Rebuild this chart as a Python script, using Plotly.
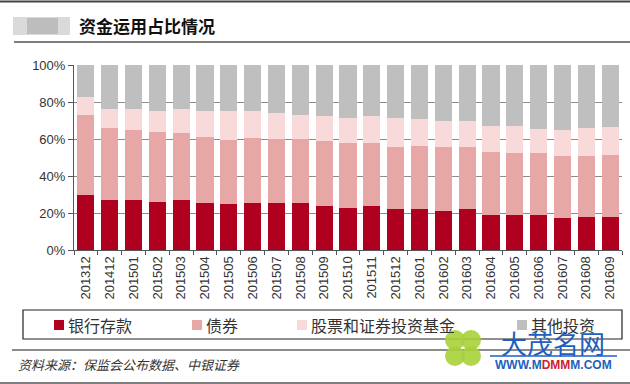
import plotly.graph_objects as go

categories = ["201312","201412","201501","201502","201503","201504","201505","201506",
              "201507","201508","201509","201510","201511","201512","201601","201602",
              "201603","201604","201605","201606","201607","201608","201609"]
series_names = ["银行存款", "债券", "股票和证券投资基金", "其他投资"]
bank = [29.7,27.0,27.0,26.1,27.0,25.6,24.7,25.6,25.2,25.2,24.0,22.5,23.8,22.0,22.0,21.1,22.0,18.9,18.9,18.9,17.1,18.0,18.0]
bond = [43.3,38.8,37.9,37.9,36.1,35.3,34.8,34.8,34.6,34.6,35.1,35.5,34.2,33.9,34.2,34.8,33.9,34.3,33.7,33.7,33.7,32.8,33.4]
stock = [9.9,10.4,11.1,11.1,12.9,14.2,15.6,14.7,14.4,13.2,13.3,13.5,14.6,15.3,14.4,13.8,13.8,14.0,14.6,12.8,14.1,15.0,14.9]
other = [17.1,23.8,24.0,24.9,24.0,24.9,24.9,24.9,25.8,27.0,27.6,28.5,27.4,28.8,29.4,30.3,30.3,32.8,32.8,34.6,35.1,34.2,33.7]
y_ticks = [0, 20, 40, 60, 80, 100]
y_ticklabels = ["0%", "20%", "40%", "60%", "80%", "100%"]
colors = ["#B0001F", "#E8A7A7", "#F8DADA", "#BFBFBF"]
title_text = "资金运用占比情况"
source_text = "资料来源：保监会公布数据、中银证券"

W, H = 630, 384
L, R, T, B = 74, 8, 65, 134
PW, PH = W - L - R, H - T - B

def px(x):
    return (x - L) / PW

def py(y):
    return (H - B - y) / PH

fig = go.Figure()
for name, vals, col in zip(series_names, [bank, bond, stock, other], colors):
    fig.add_trace(go.Bar(x=categories, y=vals, name=name, marker=dict(color=col, line=dict(width=0)),
                         showlegend=False))

shapes = []
annotations = []

# top rule, title rule, separator, bottom rule
shapes.append(dict(type="line", xref="paper", yref="paper", x0=px(0), x1=px(630), y0=py(1.5), y1=py(1.5),
                   line=dict(color="#444444", width=2)))
shapes.append(dict(type="line", xref="paper", yref="paper", x0=px(14), x1=px(630), y0=py(42), y1=py(42),
                   line=dict(color="#555555", width=1.5)))
shapes.append(dict(type="line", xref="paper", yref="paper", x0=px(12), x1=px(630), y0=py(350), y1=py(350),
                   line=dict(color="#666666", width=1.5)))
shapes.append(dict(type="line", xref="paper", yref="paper", x0=px(0), x1=px(630), y0=py(383), y1=py(383),
                   line=dict(color="#555555", width=1.5)))

# blurred blob before title
shapes.append(dict(type="rect", xref="paper", yref="paper", x0=px(13), x1=px(70), y0=py(35), y1=py(17),
                   fillcolor="#DADADA", line=dict(width=0), layer="above"))
shapes.append(dict(type="rect", xref="paper", yref="paper", x0=px(27), x1=px(58), y0=py(34), y1=py(18),
                   fillcolor="#BDBDBD", line=dict(width=0), layer="above"))

annotations.append(dict(text="<b>" + title_text + "</b>", xref="paper", yref="paper", x=px(77), y=py(26),
                        xanchor="left", yanchor="middle", showarrow=False,
                        font=dict(family="Noto Sans CJK SC", size=17, color="#111111")))

# legend box
shapes.append(dict(type="rect", xref="paper", yref="paper", x0=px(23), x1=px(622), y0=py(339), y1=py(310),
                   line=dict(color="#222222", width=1.2), fillcolor="rgba(0,0,0,0)"))
leg_sq_x = [54, 192, 297, 517]
for name, col, sx in zip(series_names, colors, leg_sq_x):
    shapes.append(dict(type="rect", xref="paper", yref="paper", x0=px(sx), x1=px(sx + 10),
                       y0=py(330), y1=py(320), fillcolor=col, line=dict(width=0)))
    annotations.append(dict(text=name, xref="paper", yref="paper", x=px(sx + 12), y=py(325),
                            xanchor="left", yanchor="middle", showarrow=False,
                            font=dict(family="Noto Sans CJK SC", size=16, color="#333333")))

# source
annotations.append(dict(text="<i>" + source_text + "</i>", xref="paper", yref="paper", x=px(16), y=py(364),
                        xanchor="left", yanchor="middle", showarrow=False,
                        font=dict(family="Noto Sans CJK SC", size=13, color="#333333")))

# watermark
for cx, cy in [(455, 340), (471, 340), (455, 356), (471, 356)]:
    shapes.append(dict(type="circle", xref="paper", yref="paper", x0=px(cx - 10), x1=px(cx + 10),
                       y0=py(cy + 10), y1=py(cy - 10), fillcolor="#A6D13A", line=dict(width=0),
                       opacity=0.9, layer="above"))
annotations.append(dict(text="大茂名网", xref="paper", yref="paper", x=px(553), y=py(342),
                        xanchor="center", yanchor="middle", showarrow=False,
                        font=dict(family="Noto Sans CJK SC", size=26, color="#1F5FC0")))
shapes.append(dict(type="line", xref="paper", yref="paper", x0=px(490), x1=px(617), y0=py(356), y1=py(356),
                   line=dict(color="#1F5FC0", width=1.5), layer="above"))
annotations.append(dict(text="<b>WWW.M<span style='color:#D02030'>DMM</span>M.COM</b>", xref="paper", yref="paper",
                        x=px(553), y=py(365), xanchor="center", yanchor="middle", showarrow=False,
                        font=dict(family="Arial, Liberation Sans", size=12, color="#1F5FC0")))

fig.update_layout(
    width=W, height=H,
    margin=dict(l=L, r=R, t=T, b=B),
    barmode="stack", bargap=0.28,
    plot_bgcolor="white", paper_bgcolor="white",
    font=dict(family="Arial, Liberation Sans", size=13, color="#333333"),
    shapes=shapes, annotations=annotations,
    xaxis=dict(type="category", tickangle=-90, ticks="outside", tickson="boundaries", ticklen=4,
               tickcolor="#555555", showline=True, linecolor="#555555", linewidth=1,
               tickfont=dict(size=13, color="#333333"), showgrid=False),
    yaxis=dict(range=[0, 100], tickvals=y_ticks, ticktext=y_ticklabels, ticks="outside", ticklen=5,
               tickcolor="#555555", showline=True, linecolor="#555555", linewidth=1,
               showgrid=True, gridcolor="#8C8C8C", gridwidth=1, zeroline=False,
               tickfont=dict(size=13, color="#333333")),
)

fig.write_html("out.html", config={"displayModeBar": False},
               post_script="document.body.style.margin='0';document.body.style.padding='0';")
